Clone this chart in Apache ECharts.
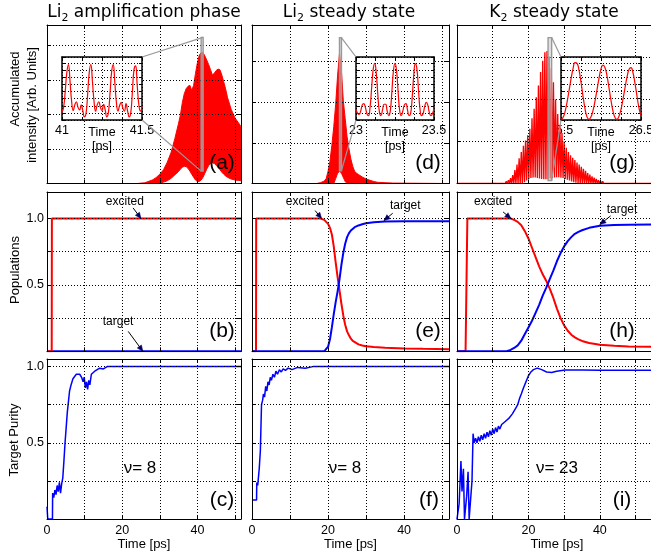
<!DOCTYPE html>
<html>
<head>
<meta charset="utf-8">
<title>Li2 / K2 amplification</title>
<script src="https://cdn.jsdelivr.net/npm/echarts@6.0.0/dist/echarts.min.js"></script>
<style>
html,body{margin:0;padding:0;background:#fff;}
#chart{width:651px;height:553px;}
</style>
</head>
<body>
<div id="chart"></div>
<script>
// ================= DATA =================
// Top row: accumulated intensity envelopes (Time [ps] -> Arb. units)
const tA  = [0, 24, 26, 28, 29, 30, 31, 32, 33, 34, 35, 35.5, 36, 36.5, 37, 37.5, 38, 38.5, 39, 39.5, 40, 40.5, 41, 41.5, 42, 42.5, 43, 43.5, 44, 44.5, 45, 45.5, 46, 46.5, 47, 47.5, 48, 49, 50, 51, 51.6];
const upA = [0, 0, 0.02, 0.1, 0.17, 0.27, 0.4, 0.62, 0.9, 1.3, 1.75, 2.0, 2.35, 2.6, 2.75, 2.82, 2.85, 2.7, 2.85, 3.2, 3.5, 3.72, 3.8, 3.8, 3.7, 3.58, 3.45, 3.3, 3.15, 3.2, 3.28, 3.32, 3.3, 3.15, 2.95, 2.75, 2.5, 2.15, 1.9, 1.75, 1.65];
const loA = [0, 0, 0, 0, 0, 0.01, 0.04, 0.08, 0.15, 0.25, 0.35, 0.42, 0.47, 0.5, 0.49, 0.44, 0.36, 0.27, 0.18, 0.1, 0.06, 0.06, 0.1, 0.18, 0.3, 0.42, 0.52, 0.58, 0.6, 0.58, 0.53, 0.47, 0.4, 0.33, 0.27, 0.22, 0.18, 0.13, 0.1, 0.09, 0.08];

const tD  = [0, 17, 18, 19, 19.5, 20, 20.5, 21, 21.5, 22, 22.5, 23, 23.5, 24, 24.5, 25, 25.5, 26, 26.5, 27, 27.5, 28, 29, 30, 31, 32, 33, 35, 37, 51.8];
const upD = [0, 0, 0.02, 0.06, 0.12, 0.3, 0.55, 0.94, 1.4, 1.95, 2.65, 3.2, 2.8, 2.05, 1.6, 1.15, 0.85, 0.6, 0.42, 0.3, 0.25, 0.22, 0.16, 0.11, 0.08, 0.05, 0.03, 0.02, 0.01, 0];
const loD = [0, 0, 0, 0, 0, 0, 0, 0, 0, 0.12, 0.25, 0.3, 0.26, 0.15, 0.05, 0, 0, 0, 0, 0, 0, 0, 0, 0, 0, 0, 0, 0, 0, 0];

// K2: individual oscillation maxima / minima (maxima at gStart + i*gStep, minima half a step later)
const gStart = 12.0, gStep = 0.6, gEnd = 56;
const gUp = [0.01, 0.02, 0.03, 0.05, 0.08, 0.13, 0.2, 0.32, 0.45, 0.6, 0.75, 0.9, 1.02, 1.15, 1.3, 1.55, 1.78, 2.05, 2.33, 2.65, 2.92, 3.12, 3.15, 3.02, 2.75, 2.41, 2.0, 1.65, 1.4, 1.2, 1.0, 0.85, 0.75, 0.67, 0.61, 0.56, 0.5, 0.45, 0.4, 0.35, 0.3, 0.25, 0.21, 0.17, 0.14, 0.11, 0.08, 0.06, 0.05, 0.04, 0.03, 0.02, 0.02, 0.01, 0.01];
const gLo = [0, 0, 0, 0, 0, 0, 0, 0, 0, 0, 0, 0.03, 0.07, 0.1, 0.13, 0.14, 0.14, 0.13, 0.12, 0.11, 0.1, 0.1, 0.11, 0.12, 0.13, 0.14, 0.15, 0.15, 0.14, 0.13, 0.11, 0.09, 0.07, 0.05, 0.03, 0.02, 0.01, 0, 0, 0, 0, 0, 0, 0, 0, 0, 0, 0, 0, 0, 0, 0, 0, 0, 0];

// Insets (normalised intensity, evenly sampled from t0 with step dt)
const insetA = [0.12, 0.2, 0.45, 0.75, 0.88, 0.62, 0.3, 0.15, 0.24, 0.29, 0.2, 0.16, 0.24, 0.15, 0.05, 0.1, 0.4, 0.75, 0.88, 0.62, 0.3, 0.14, 0.24, 0.29, 0.2, 0.15, 0.25, 0.16, 0.05, 0.12, 0.42, 0.76, 0.88, 0.6, 0.28, 0.14, 0.23, 0.28, 0.19, 0.14, 0.26, 0.14, 0.05, 0.12, 0.45, 0.8, 0.86, 0.55, 0.25, 0.14, 0.22];
const insetD = [0.16, 0.11, 0.09, 0.14, 0.24, 0.26, 0.2, 0.1, 0.07, 0.2, 0.5, 0.8, 0.9, 0.74, 0.4, 0.13, 0.07, 0.16, 0.25, 0.25, 0.14, 0.07, 0.15, 0.45, 0.78, 0.9, 0.78, 0.45, 0.15, 0.07, 0.14, 0.24, 0.26, 0.16, 0.07, 0.1, 0.35, 0.7, 0.89, 0.82, 0.5, 0.18, 0.07, 0.1, 0.21, 0.28, 0.24, 0.12, 0.07, 0.1, 0.18];
const insetG = [0.01, 0.04, 0.13, 0.28, 0.46, 0.65, 0.81, 0.91, 0.9, 0.79, 0.6, 0.38, 0.18, 0.05, 0.01, 0.05, 0.15, 0.3, 0.48, 0.66, 0.81, 0.87, 0.83, 0.7, 0.51, 0.31, 0.14, 0.04, 0.01, 0.06, 0.17, 0.33, 0.51, 0.68, 0.8, 0.83, 0.75, 0.58, 0.38, 0.19, 0.07];

// Middle row: populations [time, value]
const bExcited = [[0,0],[1.25,0],[1.3,1.0],[51.6,1.0]];
const bTarget  = [[0,0],[51.6,0]];
const eExcited = [[0,0],[1.05,0],[1.1,1.0],[18,1.0],[18.5,0.995],[19,0.99],[19.5,0.975],[20,0.96],[20.5,0.93],[21,0.88],[21.5,0.79],[22,0.67],[22.5,0.56],[23,0.46],[23.5,0.36],[24,0.27],[24.5,0.2],[25,0.15],[25.5,0.12],[26,0.095],[26.5,0.078],[27,0.066],[28,0.052],[29,0.044],[30,0.038],[32,0.032],[35,0.027],[40,0.022],[45,0.019],[51.8,0.016]];
const eTarget  = [[0,0],[19,0],[19.5,0.01],[20,0.035],[20.5,0.09],[21,0.18],[21.5,0.28],[22,0.37],[22.5,0.45],[23,0.54],[23.5,0.65],[24,0.74],[24.5,0.81],[25,0.86],[25.5,0.89],[26,0.91],[26.5,0.925],[27,0.935],[28,0.948],[29,0.957],[30,0.964],[32,0.972],[35,0.977],[40,0.979],[51.8,0.98]];
const hExcited = [[0,0],[2.4,0],[2.9,1.0],[15,1.0],[16,0.99],[17,0.975],[18,0.95],[19,0.905],[20,0.85],[21,0.78],[22,0.71],[23,0.64],[24,0.58],[25,0.53],[26,0.47],[27,0.4],[28,0.32],[29,0.25],[30,0.195],[31,0.155],[32,0.125],[33,0.105],[34,0.09],[35,0.078],[37,0.062],[40,0.05],[44,0.041],[48,0.036],[56,0.033]];
const hTarget  = [[0,0],[13.9,0],[15,0.01],[16,0.025],[17,0.045],[18,0.08],[19,0.13],[20,0.18],[21,0.23],[22,0.29],[23,0.35],[24,0.42],[25,0.48],[26,0.545],[27,0.61],[28,0.68],[29,0.74],[30,0.79],[31,0.83],[32,0.86],[33,0.885],[34,0.9],[35,0.912],[37,0.93],[40,0.945],[44,0.952],[48,0.954],[56,0.955]];

// Bottom row: target purity [time, value]
const cPurity = [[0,0.08],[0.2,0],[1.45,0],[1.5,0.17],[1.8,0.14],[2.1,0.19],[2.4,0.16],[2.7,0.22],[3.0,0.18],[3.3,0.24],[3.6,0.17],[3.9,0.23],[4.2,0.27],[4.5,0.38],[4.8,0.5],[5.1,0.6],[5.4,0.7],[5.7,0.77],[6.0,0.84],[6.4,0.88],[6.9,0.92],[7.4,0.93],[7.8,0.95],[8.3,0.94],[8.7,0.95],[9.2,0.93],[9.6,0.9],[9.9,0.93],[10.2,0.86],[10.5,0.9],[10.8,0.85],[11.1,0.91],[11.4,0.88],[11.8,0.95],[12.3,0.94],[12.7,0.97],[13.2,0.96],[14,0.99],[15,0.985],[16,1.0],[51.6,1.0]];
const fPurity = [[0,0.125],[1.2,0.125],[1.25,0.24],[1.5,0.22],[1.9,0.33],[2.2,0.45],[2.5,0.75],[2.8,0.78],[3.0,0.82],[3.3,0.8],[3.6,0.87],[3.9,0.84],[4.2,0.9],[4.5,0.88],[4.8,0.93],[5.1,0.91],[5.5,0.95],[5.9,0.93],[6.3,0.97],[6.7,0.95],[7.2,0.98],[7.7,0.965],[8.2,0.985],[8.8,0.975],[9.5,0.99],[10.5,0.98],[12,0.995],[14,0.99],[16,1.0],[51.8,1.0]];
const iPurity = [[0,0],[0.6,0.1],[1.1,0.38],[1.4,0.18],[1.8,0.33],[2.1,0],[2.4,0],[2.7,0.15],[3.1,0.31],[3.4,0],[3.9,0],[4.2,0.25],[4.5,0.56],[4.8,0.5],[5.2,0.53],[5.6,0.5],[6.0,0.54],[6.4,0.51],[6.8,0.55],[7.2,0.52],[7.6,0.56],[8.0,0.53],[8.4,0.57],[8.8,0.54],[9.2,0.58],[9.6,0.55],[10.0,0.59],[10.4,0.56],[10.8,0.6],[11.2,0.57],[11.6,0.61],[12.0,0.59],[12.5,0.62],[13,0.61],[13.5,0.64],[14,0.63],[14.5,0.66],[15,0.66],[15.5,0.69],[16,0.7],[16.5,0.73],[17,0.75],[17.5,0.79],[18,0.82],[18.6,0.86],[19.3,0.9],[20,0.94],[20.7,0.965],[21.4,0.98],[22.5,0.99],[23.7,0.98],[25.1,0.965],[26.5,0.962],[27.9,0.97],[30.3,0.978],[35,0.978],[40,0.976],[56,0.976]];

// Tick labels
const xLabeled = [0, 20, 40];
const yLabeled = [[0.5, '0.5'], [1.0, '1.0']];
const titles = [['Li', '2', ' amplification phase'], ['Li', '2', ' steady state'], ['K', '2', ' steady state']];
const panelNames = ['(a)', '(d)', '(g)', '(b)', '(e)', '(h)', '(c)', '(f)', '(i)'];
const nuLabels = ['ν= 8', 'ν= 8', 'ν= 23'];

// ================= LAYOUT =================
const FONT = "'Liberation Sans', Arial, Helvetica, sans-serif";
const TFONT = "'DejaVu Sans', 'Liberation Sans', sans-serif";
const RED = '#ff0000', BLUE = '#0000ff';
const cols = [{left:47, width:194, xmax:51.6}, {left:252, width:197, xmax:51.8}, {left:457, width:200, xmax:56}];
const rows = [{top:25, height:158.5}, {top:192, height:159.3}, {top:359, height:160}];
const topYmax = [4.6, 3.9, 3.77];
const insetDefs = [
  {main:0, left:62,  top:57, width:80, height:63, x:[41, 41.5, 0.125], labels:['41','41.5'], data:insetA, t0:41.0, dt:0.01, zoomY:[0.36, 4.24], side:'left'},
  {main:1, left:356, top:57, width:78, height:63, x:[23, 23.5, 0.125], labels:['23','23.5'], data:insetD, t0:23.0, dt:0.01, zoomY:[0.31, 3.59], side:'right'},
  {main:2, left:561, top:57, width:80, height:63, x:[25.5, 26.5, 0.25], labels:['25.5','26.5'], data:insetG, t0:25.5, dt:0.025, zoomY:[0.07, 3.47], side:'right'}
];

const grids = [], xAxis = [], yAxis = [], series = [];
const dotted = {type:[1, 2], color:'#000', width:1};
const fmtX = v => xLabeled.some(x => Math.abs(x - v) < 1e-9) ? String(v) : '';
const fmtY = v => { const k = yLabeled.find(e => Math.abs(e[0] - v) < 1e-9); return k ? k[1] : ''; };

function axesFor(gi, xr, yr, o) {
  const common = {type:'value', gridIndex:gi, z:o.z,
    axisLine:{show:true, onZero:false, lineStyle:{color:'#000', width:o.lw}},
    axisTick:{show:true, inside:true, length:o.tick, lineStyle:{color:'#000', width:1}},
    axisPointer:{show:false}};
  const xl = o.xLabel ? {show:true, margin:5, color:'#000', fontFamily:FONT, fontSize:12.5, formatter:o.xLabel} : {show:false};
  const yl = o.yLabel ? {show:true, margin:3, color:'#000', fontFamily:FONT, fontSize:12.5, formatter:o.yLabel} : {show:false};
  xAxis.push(Object.assign({}, common, {position:'bottom', min:xr[0], max:xr[1], interval:xr[2], axisLabel:xl,
    splitLine:{show:true, lineStyle:dotted}, name:o.xName || '', nameLocation:'middle', nameGap:19,
    nameTextStyle:{fontFamily:FONT, fontSize:13, color:'#000'}}));
  xAxis.push(Object.assign({}, common, {position:'top', min:xr[0], max:xr[1], interval:xr[2], axisLabel:{show:false}, splitLine:{show:false}}));
  yAxis.push(Object.assign({}, common, {position:'left', min:yr[0], max:yr[1], interval:yr[2], axisLabel:yl, splitLine:{show:true, lineStyle:dotted}}));
  yAxis.push(Object.assign({}, common, {position:'right', min:yr[0], max:yr[1], interval:yr[2], axisLabel:{show:false}, splitLine:{show:false}}));
}

for (let r = 0; r < 3; r++) {
  for (let c = 0; c < 3; c++) {
    const gi = r * 3 + c;
    grids.push({left:cols[c].left, top:rows[r].top, width:cols[c].width, height:rows[r].height,
      outerBoundsMode:'none', containLabel:false, show:false});
    const yr = r === 0 ? [0, topYmax[c], 1] : (r === 1 ? [0, 1.2, 0.25] : [0, 1.05, 0.25]);
    axesFor(gi, [0, cols[c].xmax, 10], yr, {z:3, lw:1, tick:4,
      xLabel: r === 2 ? fmtX : null, yLabel: (r > 0 && c === 0) ? fmtY : null, xName: r === 2 ? 'Time [ps]' : ''});
  }
}
insetDefs.forEach((d, k) => {
  const gi = 9 + k;
  d.gi = gi;
  grids.push({left:d.left, top:d.top, width:d.width, height:d.height, show:true, backgroundColor:'#fff',
    borderWidth:0, z:10, outerBoundsMode:'none', containLabel:false});
  axesFor(gi, d.x, [0, 1, 0.113], {z:11, lw:1.5, tick:3});
});

function line(gi, data, color, width, extra) {
  series.push(Object.assign({type:'line', xAxisIndex:2 * gi, yAxisIndex:2 * gi, data:data, symbol:'none',
    showSymbol:false, silent:true, lineStyle:{color:color, width:width}, itemStyle:{color:color}, z:2}, extra || {}));
}
// band between lower and upper envelope, drawn as polygon through the axis scales
function band(gi, t, up, lo) {
  series.push({type:'custom', xAxisIndex:2 * gi, yAxisIndex:2 * gi, data:[[t[0], 0]], silent:true, z:2, clip:true,
    renderItem: function (params, api) {
      const pts = [];
      for (let i = 0; i < t.length; i++) pts.push(api.coord([t[i], up[i]]));
      for (let i = t.length - 1; i >= 0; i--) pts.push(api.coord([t[i], lo[i]]));
      return {type:'polygon', shape:{points:pts}, style:{fill:RED, stroke:RED, lineWidth:1}};
    }});
}
band(0, tA, upA, loA);
band(1, tD, upD, loD);
const gData = [[0, 0], [gStart - gStep / 2, 0]];
gUp.forEach((v, i) => { gData.push([gStart + i * gStep, v]); gData.push([gStart + i * gStep + gStep / 2, gLo[i]]); });
gData.push([gEnd, 0]);
line(2, gData, RED, 1.35);

line(3, bTarget, BLUE, 2); line(3, bExcited, RED, 2);
line(4, eExcited, RED, 2); line(4, eTarget, BLUE, 2);
line(5, hExcited, RED, 2); line(5, hTarget, BLUE, 2);
line(6, cPurity, BLUE, 1.5);
line(7, fPurity, BLUE, 1.5);
line(8, iPurity, BLUE, 1.5);
insetDefs.forEach(d => {
  line(d.gi, d.data.map((v, i) => [d.t0 + i * d.dt, v]), RED, 1.2, {smooth:0.5, z:12});
});

const chart = echarts.init(document.getElementById('chart'), null, {width:651, height:553});
chart.setOption({animation:false, backgroundColor:'#fff', grid:grids, xAxis:xAxis, yAxis:yAxis, series:series});

// ================= ANNOTATIONS =================
const P = (gi, v) => chart.convertToPixel({xAxisIndex:2 * gi, yAxisIndex:2 * gi}, v);
const G = [];
function txt(x, y, text, size, family, extra) {
  G.push(Object.assign({type:'text', x:x, y:y, z:100, silent:true,
    style:{text:text, fontSize:size, fontFamily:family || FONT, fill:'#000',
      align:'center', verticalAlign:'middle', textAlign:'center', textVerticalAlign:'middle'}}, extra || {}));
}
// titles
titles.forEach((t, c) => {
  const cx = cols[c].left + 97;
  G.push({type:'text', x:cx, y:13, z:100, silent:true, style:{
    text:'{a|' + t[0] + '}{s|' + t[1] + '}{a|' + t[2] + '}',
    align:'center', verticalAlign:'middle', textAlign:'center', textVerticalAlign:'middle',
    rich:{a:{fontFamily:TFONT, fontSize:17, lineHeight:22, fill:'#000'},
          s:{fontFamily:TFONT, fontSize:11, lineHeight:14, verticalAlign:'bottom', fill:'#000'}}}});
});
// y axis titles
txt(15, 89, 'Accumulated', 13, FONT, {rotation:Math.PI / 2});
txt(32, 105, 'intensity [Arb. Units]', 13, FONT, {rotation:Math.PI / 2});
txt(15, 270, 'Populations', 13, FONT, {rotation:Math.PI / 2});
txt(14, 440, 'Target Purity', 13, FONT, {rotation:Math.PI / 2});
// panel labels
const panelPos = [[222,163],[428,163],[622,163],[222,331],[428,331],[622,331],[222,500],[429,500],[622,500]];
panelNames.forEach((n, i) => txt(panelPos[i][0], panelPos[i][1], n, 21));
// nu labels
const nuPos = [[140,468],[345,468],[557,468]];
nuLabels.forEach((n, i) => txt(nuPos[i][0], nuPos[i][1], n, 17));
// inset labels and zoom indicators
insetDefs.forEach(d => {
  const bx = d.top + d.height;
  txt(d.left, bx + 11, d.labels[0], 12.5, FONT, {z:1});
  txt(d.left + d.width, bx + 11, d.labels[1], 12.5, FONT, {z:1});
  txt(d.left + d.width / 2, bx + 13, 'Time', 12.5, FONT, {z:1});
  txt(d.left + d.width / 2, bx + 27, '[ps]', 12.5, FONT, {z:1});
  const p1 = P(d.main, [d.x[0], d.zoomY[1]]);
  const p2 = P(d.main, [d.x[1], d.zoomY[0]]);
  G.push({type:'rect', z:50, silent:true, shape:{x:p1[0], y:p1[1], width:Math.max(2, p2[0] - p1[0]), height:p2[1] - p1[1]},
    style:{stroke:'#999', lineWidth:1.4, fill:'rgba(200,200,200,0.55)'}});
  let segs;
  if (d.side === 'left') {
    segs = [[d.left + d.width, d.top, p2[0], p1[1]], [d.left + d.width, d.top + d.height, p1[0], p2[1]]];
  } else {
    segs = [[p2[0], p1[1], d.left, d.top], [p2[0], p2[1], d.left, d.top + d.height]];
  }
  segs.forEach(s => G.push({type:'line', z:50, silent:true, shape:{x1:s[0], y1:s[1], x2:s[2], y2:s[3]},
    style:{stroke:'#999', lineWidth:1.2}}));
});
// population annotations
const notes = [
  {g:3, text:'excited', at:[20.7, 1.125], from:[22.9, 1.08], to:[25.0, 1.0]},
  {g:3, text:'target',  at:[18.9, 0.225], from:[21.6, 0.15], to:[25.5, 0.0]},
  {g:4, text:'excited', at:[13.9, 1.125], from:[16.6, 1.06], to:[18.3, 1.0]},
  {g:4, text:'target',  at:[40.3, 1.095], from:[37.0, 1.04], to:[34.7, 0.985]},
  {g:5, text:'excited', at:[10.1, 1.125], from:[12.9, 1.05], to:[15.1, 1.0]},
  {g:5, text:'target',  at:[46.2, 1.07],  from:[43.0, 1.02], to:[40.0, 0.955]}
];
notes.forEach(n => {
  const a = P(n.g, n.at), f = P(n.g, n.from), t = P(n.g, n.to);
  txt(a[0], a[1], n.text, 12);
  G.push({type:'line', z:100, silent:true, shape:{x1:f[0], y1:f[1], x2:t[0], y2:t[1]}, style:{stroke:'#000', lineWidth:1}});
  const dx = t[0] - f[0], dy = t[1] - f[1], L = Math.hypot(dx, dy) || 1;
  const ux = dx / L, uy = dy / L, hl = 6, hw = 2.6;
  const bx = t[0] - ux * hl, by = t[1] - uy * hl;
  G.push({type:'polygon', z:101, silent:true, shape:{points:[[t[0], t[1]], [bx - uy * hw, by + ux * hw], [bx + uy * hw, by - ux * hw]]},
    style:{fill:'#000060', stroke:'#000060', lineWidth:0.5}});
});
chart.setOption({graphic:{elements:G}});
</script>
</body>
</html>
